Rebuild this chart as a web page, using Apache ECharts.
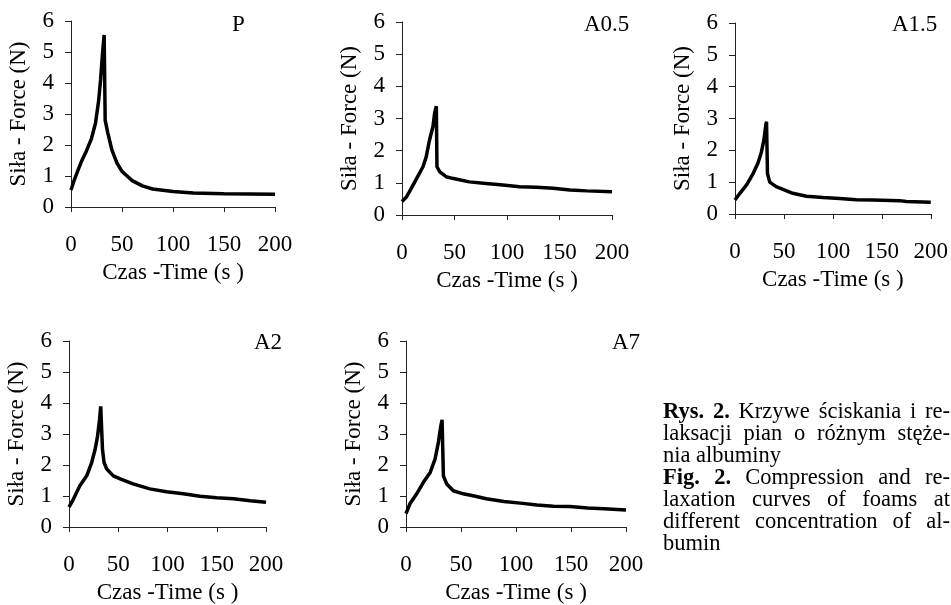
<!DOCTYPE html>
<html>
<head>
<meta charset="utf-8">
<script src="https://cdn.jsdelivr.net/npm/echarts@6/dist/echarts.min.js"></script>
<style>
  html, body { margin: 0; padding: 0; background: #fff; }
  #chart { width: 951px; height: 605px; }
  .caption {
    position: absolute; left: 663px; top: 400px; width: 287px;
    font-family: "Liberation Serif", serif; font-size: 22.5px; line-height: 22px; color: #000;
  }
  .caption div { text-align: justify; text-align-last: justify; white-space: nowrap; }
  .caption div.last { text-align-last: left; }
</style>
</head>
<body>
<div id="chart"></div>
<div class="caption">
  <div><b>Rys. 2.</b> Krzywe ściskania i re-</div>
  <div>laksacji pian o różnym stęże-</div>
  <div class="last">nia albuminy</div>
  <div><b>Fig. 2.</b> Compression and re-</div>
  <div>laxation curves of foams at</div>
  <div>different concentration of al-</div>
  <div class="last">bumin</div>
</div>
<script>
// panel labels
const panelNames = ['P', 'A0.5', 'A1.5', 'A2', 'A7']

// czas (s) i siła (N)
const timeP  = [0, 3, 7, 10, 15, 20, 24, 27, 29, 31, 32.5, 33.5, 36, 40, 45, 50, 55, 60, 70, 80, 100, 120, 150, 200]
const forceP = [0.55, 0.85, 1.2, 1.45, 1.8, 2.2, 2.7, 3.4, 4.1, 5.0, 5.55, 2.8, 2.4, 1.85, 1.42, 1.15, 1.0, 0.85, 0.68, 0.58, 0.5, 0.45, 0.43, 0.41]

const timeA05  = [0, 4, 7, 10, 14, 20, 23, 26, 29.5, 31, 32.7, 33.3, 36, 42, 48, 64, 80, 96, 112, 128, 144, 160, 176, 200]
const forceA05 = [0.42, 0.55, 0.72, 0.9, 1.14, 1.5, 1.8, 2.3, 2.75, 3.15, 3.38, 1.5, 1.34, 1.19, 1.14, 1.03, 0.98, 0.93, 0.88, 0.86, 0.83, 0.78, 0.75, 0.72]

const timeA15  = [0, 5, 12, 18.5, 23.5, 27, 29.5, 31.5, 32.2, 33.2, 35.5, 42, 49, 59, 73, 90, 107, 124, 141, 168, 175, 200]
const forceA15 = [0.44, 0.65, 0.92, 1.27, 1.6, 1.95, 2.32, 2.8, 2.9, 1.27, 1.0, 0.86, 0.77, 0.65, 0.56, 0.52, 0.49, 0.45, 0.44, 0.42, 0.39, 0.37]

const timeA2  = [0, 4.5, 11, 18, 23, 26.5, 29, 31, 32.2, 34, 35.6, 38.3, 45, 52, 65, 82, 99, 116, 133, 150, 167, 184, 200]
const forceA2 = [0.64, 0.9, 1.33, 1.65, 2.08, 2.5, 2.93, 3.46, 3.89, 2.5, 2.08, 1.87, 1.65, 1.55, 1.39, 1.23, 1.14, 1.07, 0.99, 0.94, 0.91, 0.85, 0.8]

const timeA7  = [0, 3.6, 9.7, 15.8, 22, 26.4, 29.4, 31.6, 32.8, 34, 37, 43, 52, 61, 73, 89, 104, 119, 134, 149, 165, 180, 200]
const forceA7 = [0.43, 0.75, 1.07, 1.44, 1.76, 2.19, 2.72, 3.25, 3.46, 1.65, 1.39, 1.17, 1.07, 1.01, 0.91, 0.82, 0.77, 0.71, 0.67, 0.66, 0.61, 0.59, 0.55]

const xTicks = { min: 0, max: 200, interval: 50 }
const yTicks = { min: 0, max: 6, interval: 1 }

const panels = [
  { t: timeP,   f: forceP,   grid: { left: 71,  top: 21,  width: 204, height: 186 }, label: { left: 232, top: 13 } },
  { t: timeA05, f: forceA05, grid: { left: 402, top: 22,  width: 210, height: 193 }, label: { left: 584, top: 13 } },
  { t: timeA15, f: forceA15, grid: { left: 735, top: 23,  width: 197, height: 191 }, label: { left: 892, top: 13 } },
  { t: timeA2,  f: forceA2,  grid: { left: 69,  top: 341, width: 197, height: 187 }, label: { left: 254, top: 331 } },
  { t: timeA7,  f: forceA7,  grid: { left: 406, top: 341, width: 220, height: 187 }, label: { left: 612, top: 331 } }
]

const font = 'Liberation Serif'
const fs = 23
const axisLine = { show: true, lineStyle: { color: '#222', width: 1 } }

const chart = echarts.init(document.getElementById('chart'))

chart.setOption({
  animation: false,
  backgroundColor: '#fff',
  title: panels.map((p, i) => ({
    text: panelNames[i],
    left: p.label.left,
    top: p.label.top,
    padding: 0,
    textStyle: { fontFamily: font, fontSize: fs, fontWeight: 'normal', color: '#000' }
  })),
  grid: panels.map(p => p.grid),
  xAxis: panels.map((p, i) => ({
    type: 'value',
    gridIndex: i,
    ...xTicks,
    axisLine,
    axisTick: { show: true, length: 5, lineStyle: { color: '#222' } },
    splitLine: { show: false },
    axisLabel: { color: '#000', fontFamily: font, fontSize: fs, margin: 26 },
    name: 'Czas -Time (s )',
    nameLocation: 'middle',
    nameGap: 54,
    nameTextStyle: { color: '#000', fontFamily: font, fontSize: fs }
  })),
  yAxis: panels.map((p, i) => ({
    type: 'value',
    gridIndex: i,
    ...yTicks,
    axisLine,
    axisTick: { show: true, length: 6, lineStyle: { color: '#222' } },
    splitLine: { show: false },
    axisLabel: { color: '#000', fontFamily: font, fontSize: fs, margin: 17 },
    name: 'Siła - Force (N)',
    nameLocation: 'middle',
    nameGap: 41,
    nameTextStyle: { color: '#000', fontFamily: font, fontSize: fs }
  })),
  series: panels.map((p, i) => ({
    type: 'line',
    xAxisIndex: i,
    yAxisIndex: i,
    data: p.t.map((t, k) => [t, p.f[k]]),
    showSymbol: false,
    lineStyle: { color: '#000', width: 3.5 },
    silent: true
  }))
})
</script>
</body>
</html>
